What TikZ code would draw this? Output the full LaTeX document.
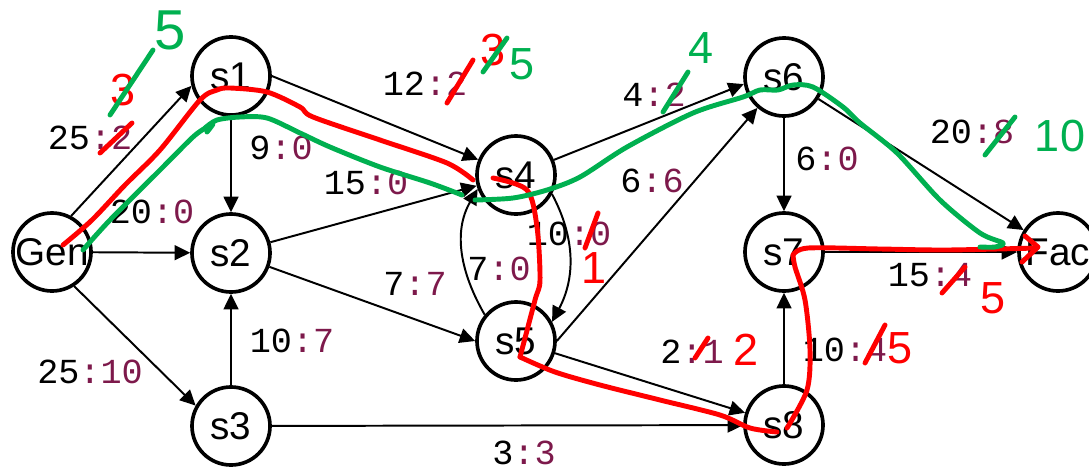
\documentclass[tikz,border=0pt]{standalone}
\usepackage{fontspec}
\setmainfont{Liberation Sans}
\newfontfamily\capfont{Liberation Mono}
\usetikzlibrary{arrows.meta}
\definecolor{flowc}{RGB}{125,25,75}
\definecolor{penred}{RGB}{255,0,0}
\definecolor{pengreen}{RGB}{0,176,80}
\tikzset{
  station/.style={circle,draw=black,line width=2.6pt,minimum size=1.95cm,inner sep=0pt,
    font=\fontsize{27.5}{27.5}\selectfont},
  flowlabel/.style={inner sep=0pt,font=\capfont\fontsize{25}{25}\selectfont},
  pipe/.style={-{Triangle[length=11pt,width=10.5pt]},line width=1.4pt},
  redpen/.style={draw=penred,line width=3.5pt,line cap=round,line join=round},
  greenpen/.style={draw=pengreen,line width=3.5pt,line cap=round,line join=round},
  redhand/.style={inner sep=0pt,text=penred,font=\fontsize{32}{32}\selectfont},
  greenhand/.style={inner sep=0pt,text=pengreen,font=\fontsize{32}{32}\selectfont},
}
\newcommand{\cp}[2]{#1\textcolor{flowc}{:#2}}

\begin{document}
\begin{tikzpicture}[x=0.025cm,y=0.025cm]
  \useasboundingbox (0,0) rectangle (1089,470);
  \clip (0,0) rectangle (1089,470);

  \node[station] (gen) at (52,218) {Gen};
  \node[station] (s1) at (231,394) {s1};
  \node[station] (s2) at (231,217) {s2};
  \node[station] (s3) at (231,44) {s3};
  \node[station] (s4) at (516,295) {s4};
  \node[station] (s5) at (516,129) {s5};
  \node[station] (s6) at (784,393) {s6};
  \node[station] (s7) at (784,218) {s7};
  \node[station] (s8) at (784,45) {s8};
  \node[station] (fac) at (1058,218) {Fac};

  \draw[pipe] (gen.62) -- (s1.194);
  \draw[pipe] (gen) -- (s2);
  \draw[pipe] (gen.-57) -- (s3.150);
  \draw[pipe] (s1) -- (s2);
  \draw[pipe] (s3) -- (s2);
  \draw[pipe] (s1.east) -- (s4);
  \draw[pipe] (s2) -- (s4);
  \draw[pipe] (s2) -- (s5.west);
  \draw[pipe] (s3) -- (s8);
  \draw[pipe] (s4.-28) to[out=-62,in=62] (s5.28);
  \draw[pipe] (s5.140) to[out=120,in=-120] (s4.200);
  \draw[pipe] (s4) -- (s6.190);
  \draw[pipe] (s5.east) -- (s6);
  \draw[pipe] (s5) -- (s8);
  \draw[pipe] (s6) -- (s7);
  \draw[pipe] (s6) -- (fac);
  \draw[pipe] (s7) -- (fac);
  \draw[pipe] (s8) -- (s7);

  \node[flowlabel] (c01) at (90,332) {\cp{25}{2}};
  \node[flowlabel] (c02) at (152,258) {\cp{20}{0}};
  \node[flowlabel] (c03) at (90,98) {\cp{25}{10}};
  \node[flowlabel] (c12) at (281,322) {\cp{9}{0}};
  \node[flowlabel] (c32) at (292,129) {\cp{10}{7}};
  \node[flowlabel] (c14) at (425,386) {\cp{12}{2}};
  \node[flowlabel] (c24) at (366,287) {\cp{15}{0}};
  \node[flowlabel] (c25) at (415,186) {\cp{7}{7}};
  \node[flowlabel] (c38) at (524,17) {\cp{3}{3}};
  \node[flowlabel] (c45) at (569,236) {\cp{10}{0}};
  \node[flowlabel] (c54) at (499,201) {\cp{7}{0}};
  \node[flowlabel] (c46) at (654,375) {\cp{4}{2}};
  \node[flowlabel] (c56) at (652,289) {\cp{6}{6}};
  \node[flowlabel] (c58) at (692,118) {\cp{2}{1}};
  \node[flowlabel] (c67) at (827,311) {\cp{6}{0}};
  \node[flowlabel] (c87) at (845,120) {\cp{10}{4}};
  \node[flowlabel] (c6f) at (972,338) {\cp{20}{8}};
  \node[flowlabel] (c7f) at (930,195) {\cp{15}{4}};

  \draw[redpen] plot[smooth,tension=0.5] coordinates {(63,225) (92,250) (125,285) (160,320)
    (200,370) (217,380) (230,382) (267,378) (300,363) (313,353) (380,330) (447,307) (473,290)};
  \draw[redpen] plot[smooth,tension=0.5] coordinates {(493,292) (527,280) (537,243) (540,190)
    (535,170) (520,113)};
  \draw[redpen] plot[smooth,tension=0.5] coordinates {(520,113) (555,98) (600,85) (660,70)
    (720,55) (750,42) (777,38)};
  \draw[redpen] plot[smooth,tension=0.5] coordinates {(787,42) (807,80) (810,120) (805,170)
    (795,203) (793,215)};
  \draw[redpen] plot[smooth,tension=0.5] coordinates {(793,215) (808,222) (880,221) (947,220)
    (1037,222)};
  \draw[redpen] (1025,234) -- (1038,223) -- (1022,208);

  \draw[greenpen] plot[smooth,tension=0.5] coordinates {(83,220) (110,250) (160,300) (193,333)
    (207,343) (213,346) (207,338)};
  \draw[greenpen] plot[smooth,tension=0.5] coordinates {(205,342) (217,350) (240,353) (267,352)
    (300,337) (330,323) (380,303) (430,287) (462,275)};
  \draw[greenpen] plot[smooth,tension=0.5] coordinates {(475,270) (513,272) (547,280) (580,293)
    (627,323) (693,357) (743,373) (760,380) (778,380) (793,385) (813,383) (843,363) (860,347)
    (897,317) (940,270) (980,237) (1003,227) (995,223) (980,223)};

  \draw[redpen] (100,317) -- (132,347);
  \node[redhand] (h01) at (123,380) {3};
  \draw[greenpen] (110,355) -- (153,420);
  \node[greenhand,font=\fontsize{40}{40}\selectfont] (g01) at (170,440) {5};

  \draw[redpen] (447,367) -- (473,410);
  \node[redhand] (h14) at (493,420) {3};
  \draw[greenpen] (483,398) -- (507,432);
  \node[greenhand] (g14) at (522,406) {5};

  \draw[greenpen] (663,358) -- (688,398);
  \node[greenhand] (g46) at (701,422) {4};
  \draw[greenpen] (985,315) -- (1015,353);
  \node[greenhand] (g6f) at (1060,334) {10};

  \draw[redpen] (585,222) -- (598,257);
  \node[redhand] (h45) at (594,202) {1};
  \draw[redpen] (695,112) -- (708,132);
  \node[redhand] (h58) at (746,120) {2};
  \draw[redpen] (865,107) -- (885,145);
  \node[redhand] (h87) at (900,122) {5};
  \draw[redpen] (942,177) -- (965,203);
  \node[redhand] (h7f) at (993,172) {5};
\end{tikzpicture}
\end{document}
